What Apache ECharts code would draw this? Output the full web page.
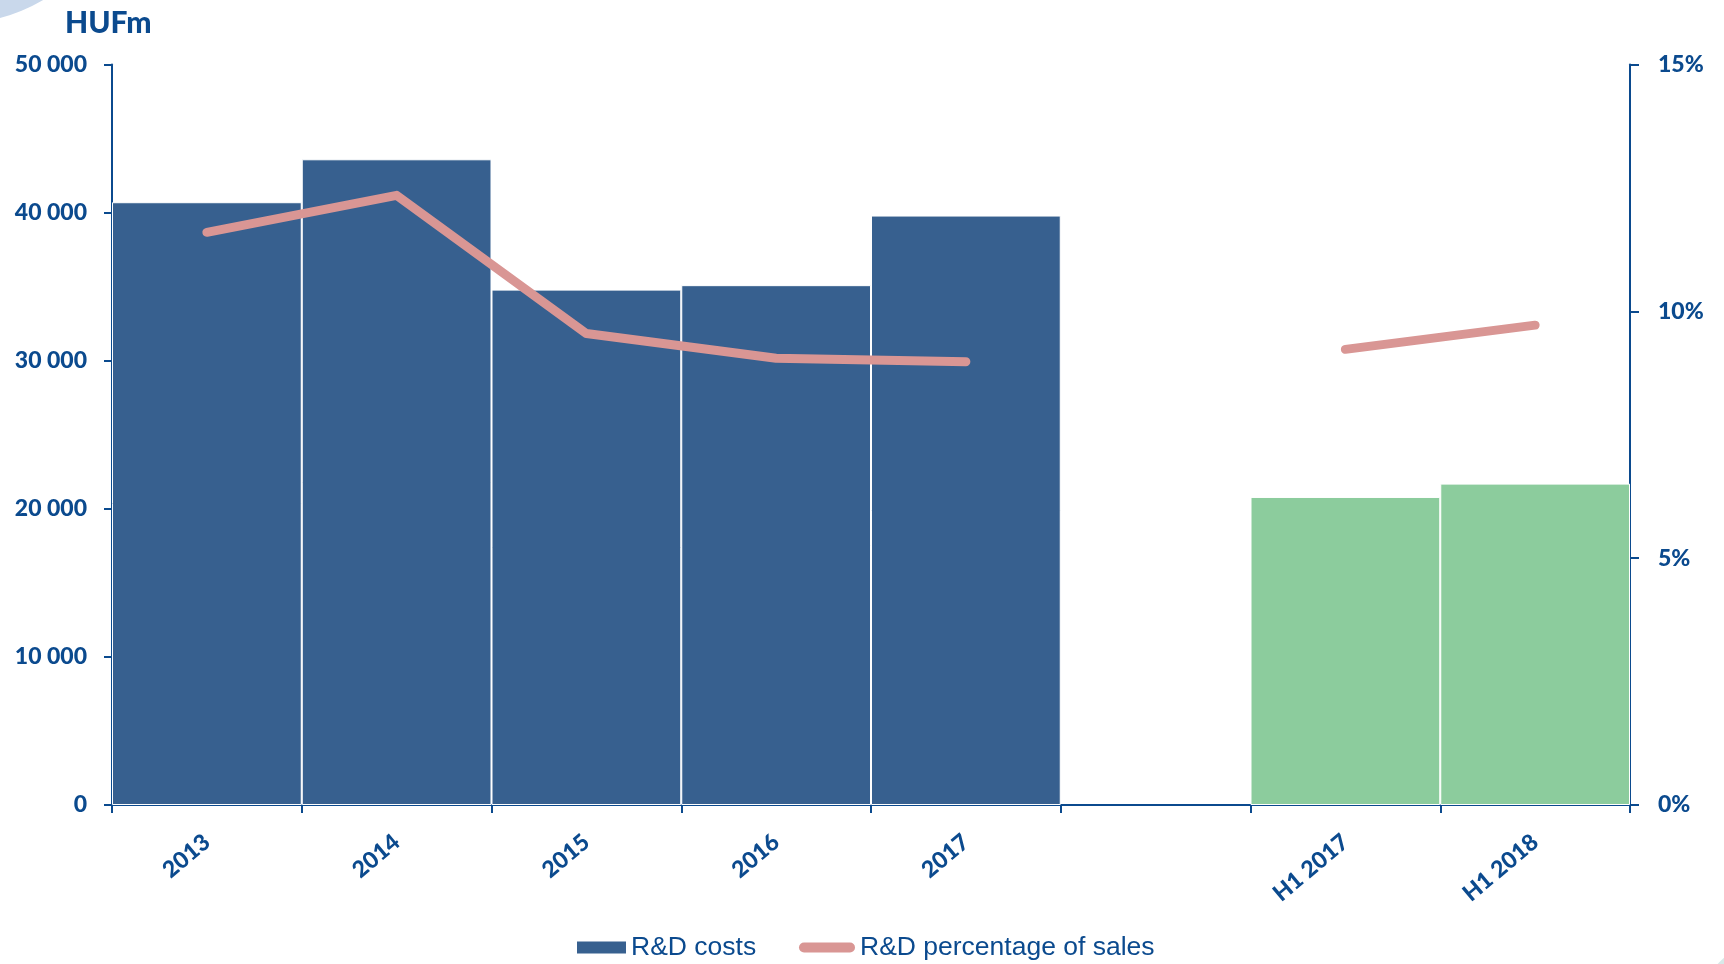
<!DOCTYPE html>
<html>
<head>
<meta charset="utf-8">
<title>R&amp;D costs</title>
<script src="https://cdn.jsdelivr.net/npm/echarts@6/dist/echarts.min.js"></script>
<style>
  html, body { margin: 0; padding: 0; background: #ffffff; }
  #chart { width: 1724px; height: 964px; }
</style>
</head>
<body>
<div id="chart"></div>
<script>
// Periods on the category axis (the empty slot separates full years from half years)
const categories = ['2013', '2014', '2015', '2016', '2017', '', 'H1 2017', 'H1 2018'];
// R&D costs, HUFm
const rdCosts = [40700, 43600, 34800, 35100, 39800, null, 20800, 21700];
// R&D as a percentage of sales
const rdPercent = [11.6, 12.35, 9.55, 9.05, 8.98, null, 9.23, 9.72];
// Axis tick settings
const costTicks = { min: 0, max: 50000, interval: 10000 };
const percentTicks = { min: 0, max: 15, interval: 5 };

const navy = '#0b4a8e';
const barBlue = '#37608f';
const halfYearGreen = '#8ccc9d';
const lineRose = '#d99694';
const tickFont = { color: navy, fontFamily: 'Lato', fontWeight: 900, fontSize: 23 };
const legendFont = { color: navy, fontFamily: 'Liberation Sans', fontSize: 26.5 };

function spaced(v) {
  return String(v).replace(/\B(?=(\d{3})+(?!\d))/g, ' ');
}

const chart = echarts.init(document.getElementById('chart'), null, { renderer: 'canvas' });

chart.setOption({
  backgroundColor: '#ffffff',
  animation: false,
  graphic: [
    // light corner swooshes
    { type: 'circle', shape: { cx: -45, cy: -150, r: 174 }, style: { fill: '#c9d8eb' }, z: -1 },
    { type: 'circle', shape: { cx: 1800, cy: 1040, r: 112 }, style: { fill: '#d8e9e9' }, z: -1 },
    {
      type: 'text', left: 65, top: 8,
      style: { text: 'HUFm', fill: navy, font: '900 30px Lato' }
    }
  ],
  grid: { left: 112, right: 94, top: 64.5, bottom: 159, containLabel: false },
  legend: [
    {
      data: [{ name: 'R&D costs', icon: 'rect' }],
      left: 577, top: 934, padding: 0,
      itemWidth: 49, itemHeight: 12,
      textStyle: legendFont,
      itemStyle: { color: barBlue, borderWidth: 0 },
      selectedMode: false
    },
    {
      data: [{ name: 'R&D percentage of sales', icon: 'path://M5,0 H51 A5,5 0 0 1 51,10 H5 A5,5 0 0 1 5,0 Z' }],
      left: 799, top: 934, padding: 0,
      itemWidth: 56, itemHeight: 10,
      textStyle: legendFont,
      itemStyle: { color: lineRose, borderWidth: 0 },
      selectedMode: false
    }
  ],
  xAxis: {
    type: 'category',
    data: categories,
    boundaryGap: true,
    axisLine: { show: true, lineStyle: { color: navy, width: 2 } },
    axisTick: { show: true, length: 8, lineStyle: { color: navy, width: 2 } },
    axisLabel: Object.assign({ rotate: 40, margin: 34, interval: 0 }, tickFont),
    splitLine: { show: false }
  },
  yAxis: [
    {
      type: 'value',
      min: costTicks.min, max: costTicks.max, interval: costTicks.interval,
      axisLine: { show: true, lineStyle: { color: navy, width: 2 } },
      axisTick: { show: true, length: 8, lineStyle: { color: navy, width: 2 } },
      axisLabel: Object.assign({ margin: 25, formatter: spaced }, tickFont),
      splitLine: { show: false }
    },
    {
      type: 'value',
      position: 'right',
      min: percentTicks.min, max: percentTicks.max, interval: percentTicks.interval,
      axisLine: { show: true, lineStyle: { color: navy, width: 2 } },
      axisTick: { show: true, length: 9, lineStyle: { color: navy, width: 2 } },
      axisLabel: Object.assign({ margin: 28, formatter: '{value}%' }, tickFont),
      splitLine: { show: false }
    }
  ],
  series: [
    {
      name: 'R&D costs',
      type: 'bar',
      data: rdCosts,
      barCategoryGap: '0%',
      itemStyle: {
        color: function (p) { return p.name.indexOf('H1') === 0 ? halfYearGreen : barBlue; },
        borderColor: '#ffffff',
        borderWidth: 1
      },
      z: 2
    },
    {
      name: 'R&D percentage of sales',
      type: 'line',
      yAxisIndex: 1,
      data: rdPercent,
      connectNulls: false,
      symbol: 'none',
      color: lineRose,
      itemStyle: { color: lineRose },
      lineStyle: { color: lineRose, width: 9, cap: 'round', join: 'round' },
      z: 3
    }
  ]
});
</script>
</body>
</html>
